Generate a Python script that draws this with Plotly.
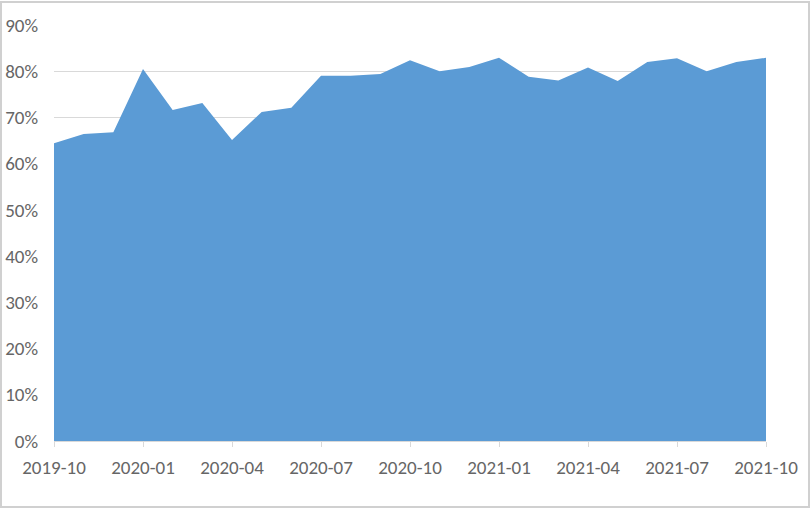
import plotly.graph_objects as go

months = ["2019-10", "2019-11", "2019-12", "2020-01", "2020-02", "2020-03", "2020-04",
          "2020-05", "2020-06", "2020-07", "2020-08", "2020-09", "2020-10", "2020-11",
          "2020-12", "2021-01", "2021-02", "2021-03", "2021-04", "2021-05", "2021-06",
          "2021-07", "2021-08", "2021-09", "2021-10"]
values = [0.644, 0.664, 0.668, 0.805, 0.716, 0.731, 0.651, 0.712, 0.721, 0.790, 0.790,
          0.794, 0.824, 0.800, 0.809, 0.829, 0.788, 0.780, 0.808, 0.779, 0.820, 0.828,
          0.800, 0.820, 0.829]
tick_labels = months[::3]
y_ticks = [i / 10 for i in range(10)]

font_family = "Carlito, Liberation Sans Narrow, Noto Sans, sans-serif"

fig = go.Figure()
fig.add_trace(go.Scatter(
    x=months, y=values, mode="lines", fill="tozeroy",
    line=dict(width=0, color="#5B9BD5"), fillcolor="#5B9BD5",
    hoverinfo="x+y",
))

L, R, T, B = 54, 46, 25, 68
W, H = 812, 509
pw, ph = W - L - R, H - T - B

fig.update_layout(
    width=W, height=H,
    margin=dict(l=L, r=R, t=T, b=B),
    paper_bgcolor="white", plot_bgcolor="white",
    showlegend=False,
    font=dict(family=font_family, size=19, color="#666666"),
    xaxis=dict(
        type="category", range=[0, len(months) - 1], automargin=False,
        tickmode="array", tickvals=tick_labels, ticktext=tick_labels,
        showgrid=False, showline=True, linecolor="#D9D9D9", linewidth=1,
        ticks="outside", ticklen=5, tickcolor="#D9D9D9",
        ticklabelstandoff=4, zeroline=False,
    ),
    yaxis=dict(
        range=[0, 0.9], tickvals=y_ticks + [0.9], tickformat=".0%",
        automargin=False,
        showgrid=True, gridcolor="#D9D9D9", gridwidth=1,
        zeroline=False, showline=False, ticks="",
        ticklabelstandoff=15,
    ),
    shapes=[dict(
        type="rect", xref="paper", yref="paper",
        x0=(1 - L) / pw, x1=1 + (R - 3) / pw,
        y0=-(B - 2) / ph, y1=1 + (T - 2) / ph,
        line=dict(color="#D0D0D0", width=2), fillcolor="rgba(0,0,0,0)", layer="below",
    )],
)

fig.write_html(
    "out.html",
    config={"displayModeBar": False},
    post_script="document.body.style.margin='0';document.body.style.overflow='hidden';",
)
